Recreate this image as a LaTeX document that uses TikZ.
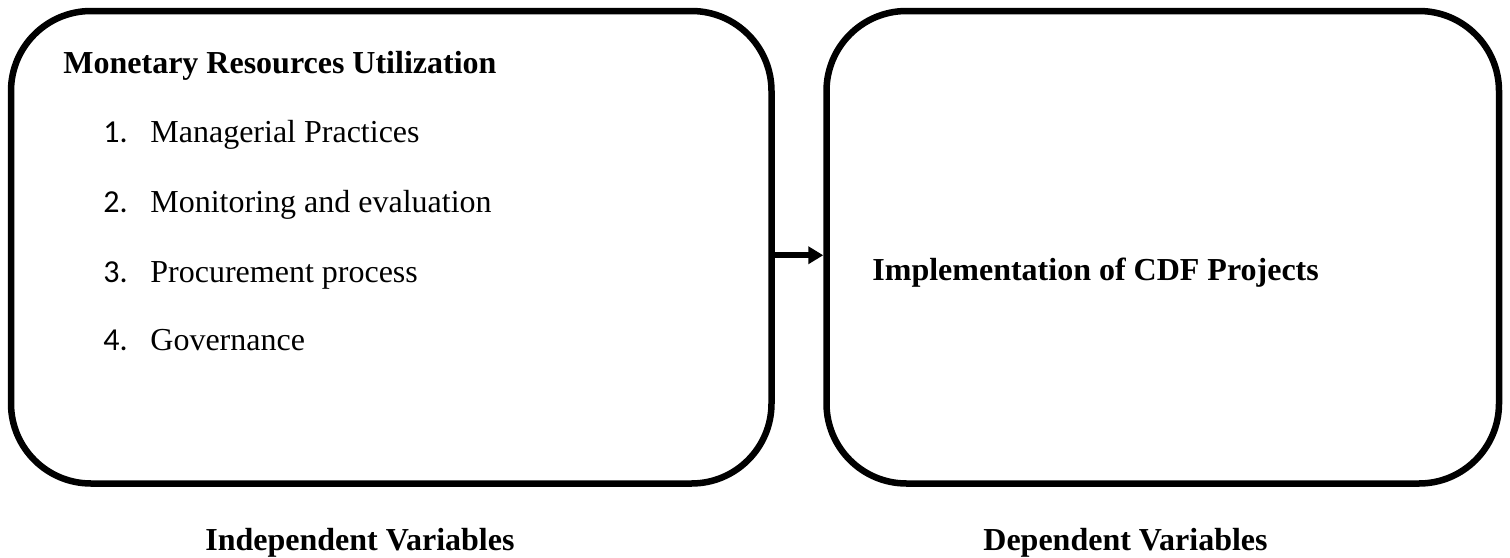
\documentclass[tikz,border=0pt]{standalone}
\usepackage{fontspec}
\setmainfont{Liberation Serif}
\newfontfamily\numfont{Carlito}
\usetikzlibrary{arrows.meta}
\begin{document}
\begin{tikzpicture}[x=0.5pt,y=-0.5pt,
  box/.style={draw=black,line width=3.25pt,rounded corners=40pt,inner sep=0pt},
  txt/.style={anchor=base west,inner sep=0pt,font=\fontsize{16pt}{19pt}\selectfont},
  btxt/.style={txt,font=\fontsize{16pt}{19pt}\selectfont\bfseries},
  num/.style={anchor=base west,inner sep=0pt,font=\fontsize{16pt}{19pt}\selectfont\numfont},
  conn/.style={line width=3pt,-{Triangle[length=7.5pt,width=8.5pt]}}]
\useasboundingbox (0,0) rectangle (1510,557);
\node[box,minimum width=380.25pt,minimum height=236.25pt] (lbox) at (391.25,247.25) {};
\node[box,minimum width=336.25pt,minimum height=236.25pt] (rbox) at (1162.75,247.25) {};
\draw[conn] ([yshift=-4pt]lbox.east) -- ([yshift=-4pt]rbox.west);
\node[btxt] (title) at (63,73) {Monetary Resources Utilization};
\node[num] (n1) at (103,142) {1.};
\node[txt] (i1) at (150,142) {Managerial Practices};
\node[num] (n2) at (103,212) {2.};
\node[txt] (i2) at (150,212) {Monitoring and evaluation};
\node[num] (n3) at (103,282) {3.};
\node[txt] (i3) at (150,282) {Procurement process};
\node[num] (n4) at (103,350) {4.};
\node[txt] (i4) at (150,350) {Governance};
\node[btxt] (impl) at (872,280) {Implementation of CDF Projects};
\node[btxt] (indep) at (205,550) {Independent Variables};
\node[btxt] (dep) at (983,550) {Dependent Variables};
\end{tikzpicture}
\end{document}
